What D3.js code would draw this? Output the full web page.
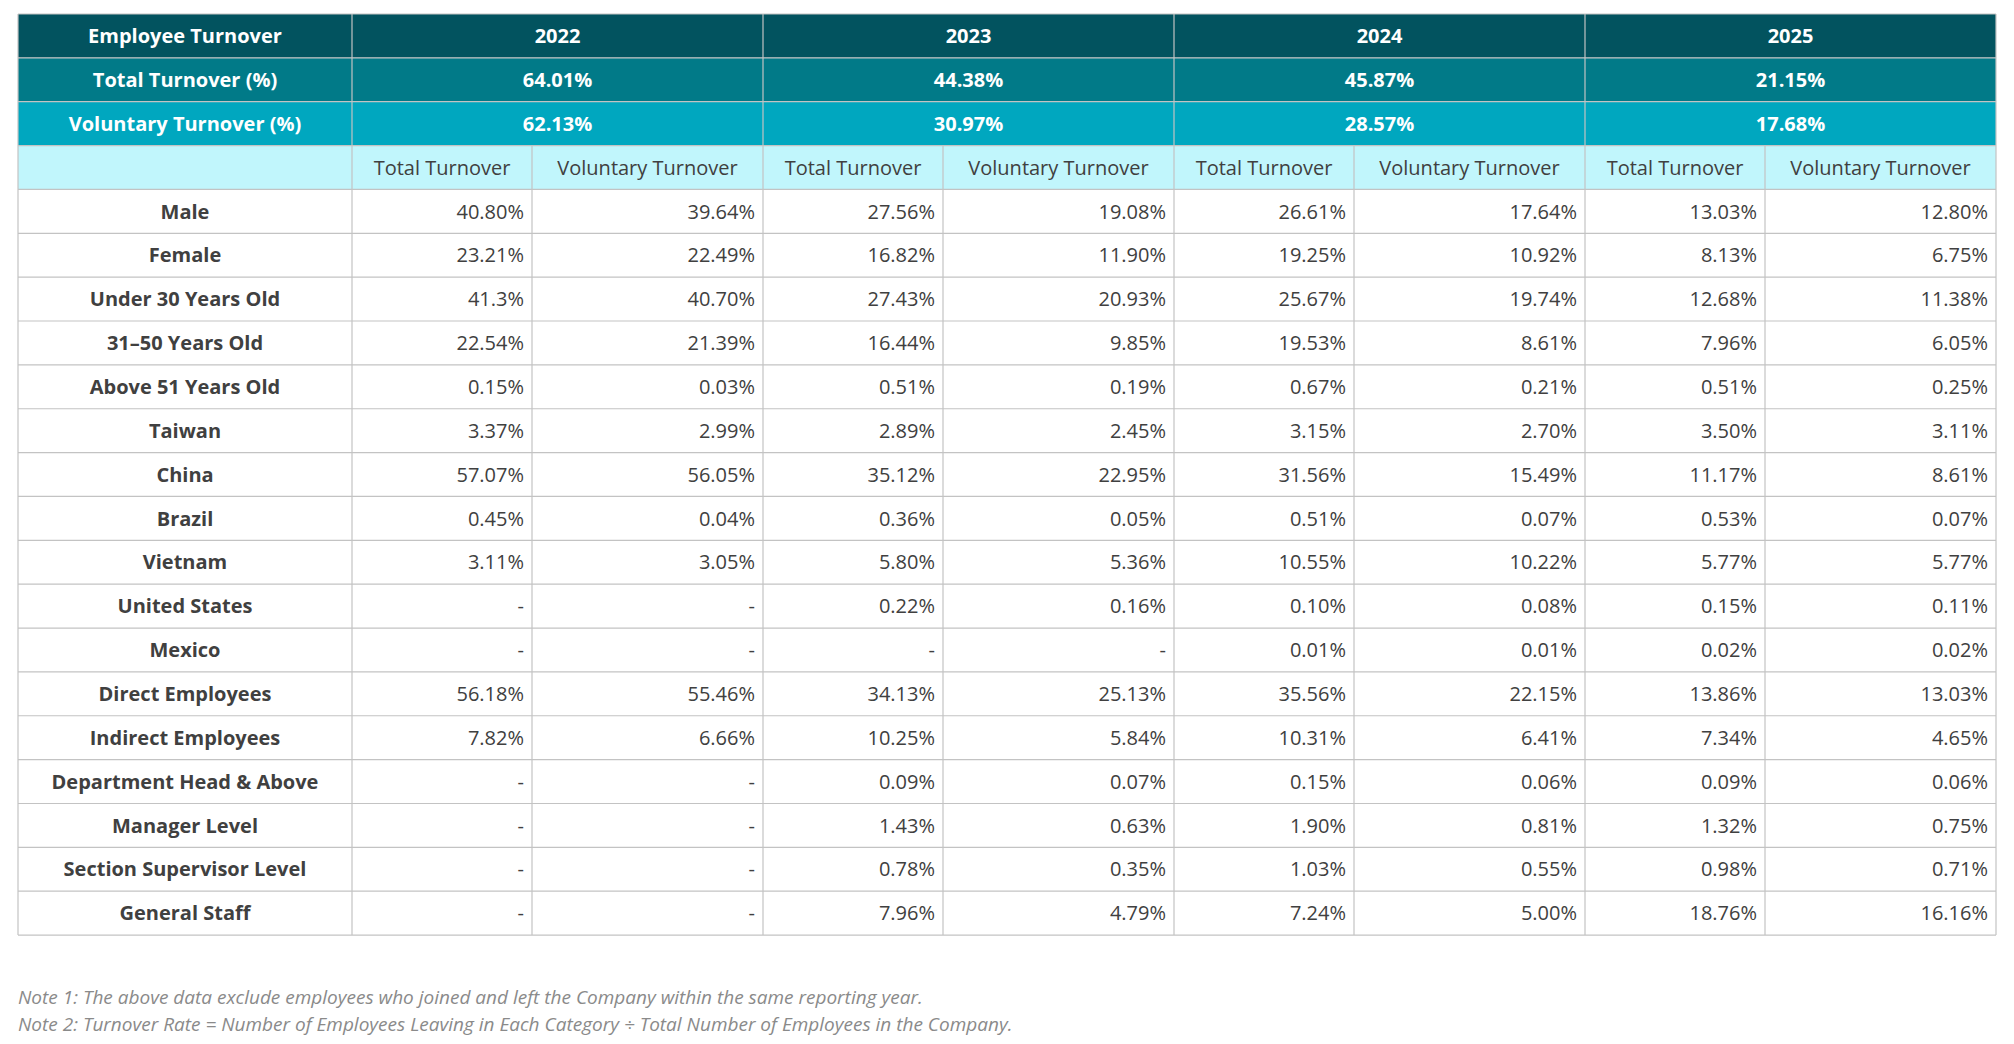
<!DOCTYPE html>
<html><head><meta charset="utf-8">
<script src="https://cdn.jsdelivr.net/npm/d3@7"></script>
<style>body{margin:0;background:#fff;font-family:"Open Sans","Noto Sans",sans-serif;}</style>
</head><body>
<svg id="chart" width="2014" height="1044"></svg>
<script>
const years = ["2022", "2023", "2024", "2025"];
const totalTurnover = ["64.01%", "44.38%", "45.87%", "21.15%"];
const voluntaryTurnover = ["62.13%", "30.97%", "28.57%", "17.68%"];
const subHeads = ["Total Turnover", "Voluntary Turnover"];
const categories = ["Male", "Female", "Under 30 Years Old", "31\u201350 Years Old", "Above 51 Years Old",
  "Taiwan", "China", "Brazil", "Vietnam", "United States", "Mexico", "Direct Employees",
  "Indirect Employees", "Department Head & Above", "Manager Level", "Section Supervisor Level", "General Staff"];
const values = [
  ["40.80%","39.64%","27.56%","19.08%","26.61%","17.64%","13.03%","12.80%"],
  ["23.21%","22.49%","16.82%","11.90%","19.25%","10.92%","8.13%","6.75%"],
  ["41.3%","40.70%","27.43%","20.93%","25.67%","19.74%","12.68%","11.38%"],
  ["22.54%","21.39%","16.44%","9.85%","19.53%","8.61%","7.96%","6.05%"],
  ["0.15%","0.03%","0.51%","0.19%","0.67%","0.21%","0.51%","0.25%"],
  ["3.37%","2.99%","2.89%","2.45%","3.15%","2.70%","3.50%","3.11%"],
  ["57.07%","56.05%","35.12%","22.95%","31.56%","15.49%","11.17%","8.61%"],
  ["0.45%","0.04%","0.36%","0.05%","0.51%","0.07%","0.53%","0.07%"],
  ["3.11%","3.05%","5.80%","5.36%","10.55%","10.22%","5.77%","5.77%"],
  ["-","-","0.22%","0.16%","0.10%","0.08%","0.15%","0.11%"],
  ["-","-","-","-","0.01%","0.01%","0.02%","0.02%"],
  ["56.18%","55.46%","34.13%","25.13%","35.56%","22.15%","13.86%","13.03%"],
  ["7.82%","6.66%","10.25%","5.84%","10.31%","6.41%","7.34%","4.65%"],
  ["-","-","0.09%","0.07%","0.15%","0.06%","0.09%","0.06%"],
  ["-","-","1.43%","0.63%","1.90%","0.81%","1.32%","0.75%"],
  ["-","-","0.78%","0.35%","1.03%","0.55%","0.98%","0.71%"],
  ["-","-","7.96%","4.79%","7.24%","5.00%","18.76%","16.16%"]
];
const notes = ["Note 1: The above data exclude employees who joined and left the Company within the same reporting year.",
  "Note 2: Turnover Rate = Number of Employees Leaving in Each Category \u00f7 Total Number of Employees in the Company."];

const svg = d3.select("#chart");
const x0 = 18, y0 = 14, rowH = 43.86;
const labelW = 334, yearW = 411, ttW = 180;
const nRows = 4 + categories.length;
const y = d3.scaleLinear().domain([0, nRows]).range([y0, y0 + nRows * rowH]);
const yearX = d3.scaleBand().domain(years).range([x0 + labelW, x0 + labelW + yearW * 4]);
const x1 = x0 + labelW + yearW * 4;
const subX = (i) => yearX(years[Math.floor(i / 2)]) + (i % 2 ? ttW : 0);
const subW = (i) => i % 2 ? yearW - ttW : ttW;
const border = "#c3c3c3";

// header bands
const bands = [
  {fill: "#02535f", label: "Employee Turnover", vals: years},
  {fill: "#017a88", label: "Total Turnover (%)", vals: totalTurnover},
  {fill: "#00a7bf", label: "Voluntary Turnover (%)", vals: voluntaryTurnover}
];
bands.forEach((b, r) => {
  svg.append("rect").attr("x", x0).attr("y", y(r)).attr("width", x1 - x0).attr("height", rowH).attr("fill", b.fill);
  svg.append("text").attr("x", x0 + labelW / 2).attr("y", y(r + 0.5)).attr("dy", "0.36em")
    .attr("text-anchor", "middle").attr("fill", "#fff").attr("font-weight", 700).attr("font-size", 20).text(b.label);
  svg.selectAll(null).data(b.vals).enter().append("text")
    .attr("x", (d, i) => yearX(years[i]) + yearW / 2).attr("y", y(r + 0.5)).attr("dy", "0.36em")
    .attr("text-anchor", "middle").attr("fill", "#fff").attr("font-weight", 700).attr("font-size", 20).text(d => d);
});
svg.append("rect").attr("x", x0).attr("y", y(3)).attr("width", x1 - x0).attr("height", rowH).attr("fill", "#c1f6fc");
d3.range(8).forEach(i => {
  svg.append("text").attr("x", subX(i) + subW(i) / 2).attr("y", y(3.5)).attr("dy", "0.36em")
    .attr("text-anchor", "middle").attr("fill", "#404040").attr("font-size", 20).text(subHeads[i % 2]);
});

// body
categories.forEach((c, r) => {
  svg.append("text").attr("x", x0 + labelW / 2).attr("y", y(4 + r + 0.5)).attr("dy", "0.36em")
    .attr("text-anchor", "middle").attr("fill", "#404040").attr("font-weight", 700).attr("font-size", 20).text(c);
  svg.selectAll(null).data(values[r]).enter().append("text")
    .attr("x", (d, i) => subX(i) + subW(i) - 8).attr("y", y(4 + r + 0.5)).attr("dy", "0.36em")
    .attr("text-anchor", "end").attr("fill", "#404040").attr("font-size", 20).text(d => d);
});

// grid lines
d3.range(0, nRows + 1).forEach(r => {
  svg.append("line").attr("x1", x0).attr("x2", x1).attr("y1", y(r)).attr("y2", y(r)).attr("stroke", border).attr("stroke-width", 1.2);
});
[x0, x1].concat(years.map(d => yearX(d))).forEach(x => {
  svg.append("line").attr("x1", x).attr("x2", x).attr("y1", y(0)).attr("y2", y(nRows)).attr("stroke", border).attr("stroke-width", 1.2);
});
years.forEach(d => {
  const x = yearX(d) + ttW;
  svg.append("line").attr("x1", x).attr("x2", x).attr("y1", y(3)).attr("y2", y(nRows)).attr("stroke", border).attr("stroke-width", 1.2);
});

// notes
svg.selectAll(null).data(notes).enter().append("text")
  .attr("x", x0).attr("y", (d, i) => 1004 + i * 27).attr("fill", "#8a8a8a").attr("font-style", "italic")
  .attr("font-size", 19).text(d => d);
</script>
</body></html>
